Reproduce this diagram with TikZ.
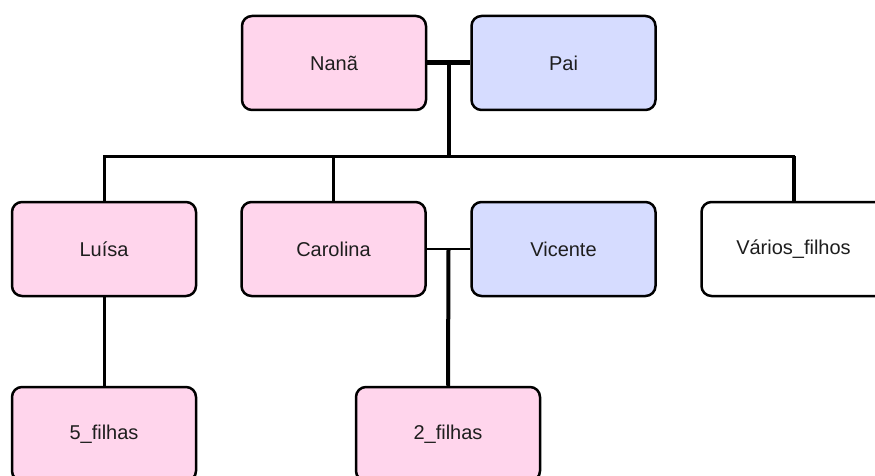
\documentclass[tikz,border=0pt]{standalone}
\usepackage{fontspec}
\setmainfont{Liberation Sans}
\usetikzlibrary{calc}
\definecolor{femfill}{RGB}{255,213,236}
\definecolor{mascfill}{RGB}{214,220,255}
\definecolor{labeltext}{RGB}{30,30,30}
\tikzset{
  person/.style={draw=black, line width=2.5pt, rounded corners=10pt,
    minimum width=184pt, minimum height=94pt, inner sep=0pt,
    text=labeltext, font=\fontsize{20}{24}\selectfont},
  fem/.style={person, fill=femfill},
  masc/.style={person, fill=mascfill},
  other/.style={person, fill=white},
  couple/.style={draw=black, line width=5pt},
  thinlink/.style={draw=black, line width=3pt},
  droplink/.style={draw=black, line width=4pt},
}
\begin{document}
\begin{tikzpicture}[x=1pt, y=-1pt]
  \useasboundingbox (0,0) rectangle (875,476);
  \clip (0,0) rectangle (875,476);

  % generation 1
  \node[fem]  (nana) at (334,63)   {Nanã};
  \node[masc] (pai)  at (563.5,63) {Pai};

  % generation 2
  \node[fem]   (luisa)    at (104,249)   {Luísa};
  \node[fem]   (carolina) at (333.5,249) {Carolina};
  \node[masc]  (vicente)  at (563.5,249) {Vicente};
  \node[other] (varios)   at (793.5,249) {Vários\_filhos};

  % generation 3
  \node[fem] (filhas5) at (104,434) {5\_filhas};
  \node[fem] (filhas2) at (448,434) {2\_filhas};

  % level of the sibling bar
  \coordinate (bus) at (449,156);

  % Nanã + Pai and their children
  \draw[couple] (nana.east) -- (pai.west);
  \coordinate (m1) at ($(nana.east)!0.5!(pai.west)$);
  \draw[droplink] (m1) -- (m1 |- bus);
  \draw[thinlink] (luisa.north) |- (bus) -| (varios.north);
  \draw[thinlink] (carolina.north) -- (carolina.north |- bus);
  \draw[droplink] (varios.north) -- (varios.north |- bus);

  % Luísa's children
  \draw[thinlink] (luisa.south) -- (filhas5.north);

  % Carolina + Vicente and their children
  \draw[line width=2.5pt] (carolina.east) -- (vicente.west);
  \coordinate (m2) at ($(carolina.east)!0.5!(vicente.west)$);
  \draw[droplink] (m2) -- (filhas2.north);
\end{tikzpicture}
\end{document}
